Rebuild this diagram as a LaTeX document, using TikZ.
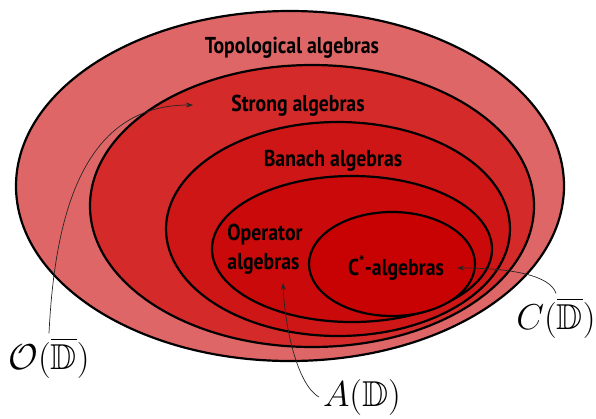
\RequirePackage{fix-cm}
\documentclass[tikz,border=0pt]{standalone}
\usepackage{fontspec}
\usepackage{amssymb}
\usetikzlibrary{arrows.meta}
\newfontfamily\handfont[FakeStretch=0.86]{PT Sans}
\definecolor{cA}{RGB}{223,102,102}
\definecolor{cB}{RGB}{212,42,42}
\definecolor{cC}{RGB}{206,22,22}
\definecolor{cD}{RGB}{202,10,10}
\definecolor{cE}{RGB}{200,2,2}
\begin{document}
\begin{tikzpicture}[x=1pt,y=-1pt,
  ring/.style={draw=black,line width=2.2pt},
  lab/.style={font=\handfont\bfseries\fontsize{23}{29}\selectfont,inner sep=0pt},
  mlab/.style={font=\fontsize{36}{40}\selectfont,inner sep=4pt},
  pointer/.style={-{Stealth[length=7pt,width=5pt]},line width=0.7pt,draw=black!85}]
\useasboundingbox (0,0) rectangle (596,418);
\fill[cA,ring] (290,186) ellipse [x radius=274pt,y radius=175pt];
\fill[cB,ring] (312,206) ellipse [x radius=222pt,y radius=141pt];
\fill[cC,ring] (338,229) ellipse [x radius=172pt,y radius=107pt];
\fill[cD,ring] (352,249) ellipse [x radius=140pt,y radius=73pt];
\fill[cE,ring] (392,264) ellipse [x radius=83pt,y radius=52pt];
\node[lab] (topo) at (292,48) {Topological algebras};
\node[lab] (strong) at (298,106) {Strong algebras};
\node[lab] (banach) at (333,161) {Banach algebras};
\node[lab,align=left] (oper) at (265,249) {Operator\\algebras};
\node[lab] (cstar) at (396,268) {C\textsuperscript{*}-algebras};
\node[mlab] (Odisk) at (49,358) {$\mathcal{O}(\overline{\mathbb{D}})$};
\node[mlab] (Adisk) at (362,397) {$A(\mathbb{D})$};
\node[mlab] (Cdisk) at (556,318) {$C(\overline{\mathbb{D}})$};
\coordinate (tipS) at (193,105);
\coordinate (tipA) at (283,283);
\coordinate (tipC) at (457,268);
\draw[pointer] (Odisk.north) .. controls (55,210) and (85,105) .. (tipS);
\draw[pointer] (Adisk.west) .. controls (298,385) and (285,330) .. (tipA);
\draw[pointer] (Cdisk.north) .. controls (550,275) and (510,268) .. (tipC);
\end{tikzpicture}
\end{document}
